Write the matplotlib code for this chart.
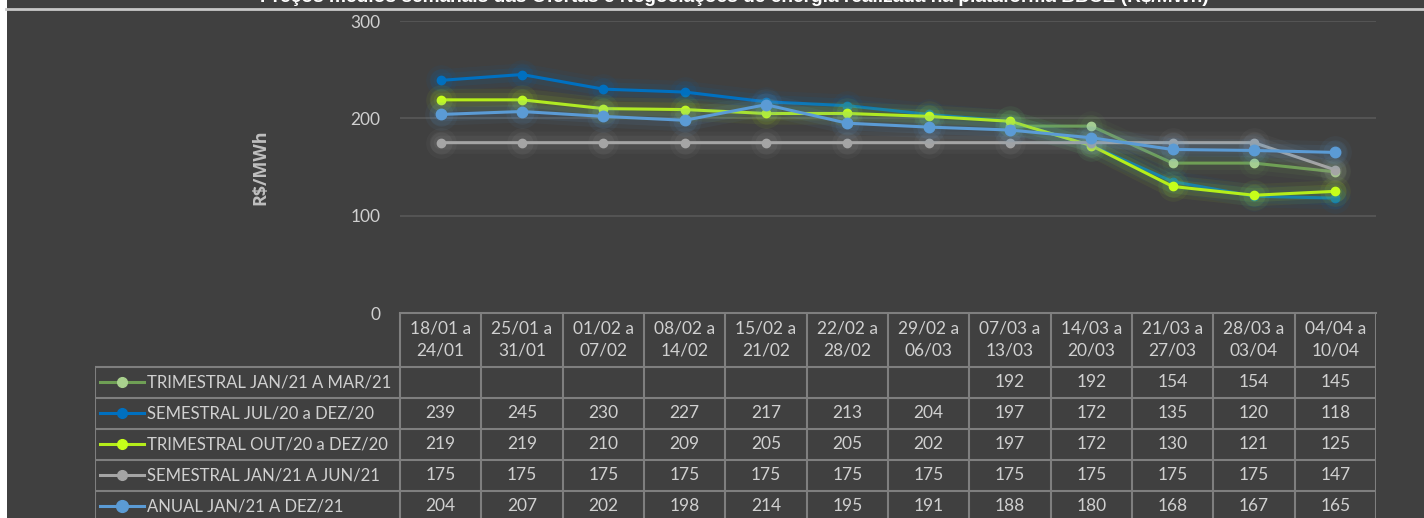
import matplotlib
matplotlib.use('Agg')
import matplotlib.pyplot as plt
import numpy as np

plt.rcParams['font.family'] = ['Lato', 'DejaVu Sans']

# data
weeks = ['18/01 a\n24/01', '25/01 a\n31/01', '01/02 a\n07/02', '08/02 a\n14/02',
         '15/02 a\n21/02', '22/02 a\n28/02', '29/02 a\n06/03', '07/03 a\n13/03',
         '14/03 a\n20/03', '21/03 a\n27/03', '28/03 a\n03/04', '04/04 a\n10/04']
series_names = ['TRIMESTRAL JAN/21 A MAR/21', 'SEMESTRAL JUL/20 a DEZ/20',
                'TRIMESTRAL OUT/20 a DEZ/20', 'SEMESTRAL JAN/21 A JUN/21',
                'ANUAL JAN/21 A DEZ/21']
trim_jan21 = [np.nan] * 7 + [192, 192, 154, 154, 145]
sem_jul20 = [239, 245, 230, 227, 217, 213, 204, 197, 172, 135, 120, 118]
trim_out20 = [219, 219, 210, 209, 205, 205, 202, 197, 172, 130, 121, 125]
sem_jan21 = [175] * 11 + [147]
anual_21 = [204, 207, 202, 198, 214, 195, 191, 188, 180, 168, 167, 165]
all_series = [trim_jan21, sem_jul20, trim_out20, sem_jan21, anual_21]

line_colors = ['#6f9f55', '#0070c0', '#b5ee1a', '#a5a5a5', '#5b9bd5']
marker_colors = ['#a9d18e', '#0070c0', '#c6ff1a', '#a5a5a5', '#5b9bd5']
marker_sizes = [6, 6, 6, 6, 7.5]

bg = '#404040'
txt = '#d0d0d0'
W, H = 1424, 518


def px_axes(fig, x0, y0, x1, y1):
    # pixel box (top-left origin) -> axes
    return fig.add_axes([x0 / W, 1 - y1 / H, (x1 - x0) / W, (y1 - y0) / H])


fig = plt.figure(figsize=(W / 100, H / 100), dpi=100, facecolor=bg)

# white strip on the left + line under the title
fig.patches.append(plt.Rectangle((0, 0), 7 / W, 1, transform=fig.transFigure,
                                 facecolor='white', edgecolor='none', zorder=0))
fig.lines.append(plt.Line2D([6 / W, 1], [1 - 9 / H, 1 - 9 / H], transform=fig.transFigure,
                            color='#c8c8c8', lw=2))
fig.text(0.516, 1 + 3 / H, 'Preços médios semanais das Ofertas e Negociações de energia '
         'realizada na plataforma BBCE (R$/MWh)', ha='center', va='center',
         color='white', fontsize=13.8, fontweight='bold', family='Liberation Sans')

# chart
ax = px_axes(fig, 400, 21, 1376, 313)
ax.set_facecolor('none')
x = np.arange(len(weeks))
for vals, lc, mc, ms in zip(all_series, line_colors, marker_colors, marker_sizes):
    v = np.array(vals, dtype=float)
    # glow
    for lw, a in [(16, 0.06), (10, 0.09)]:
        ax.plot(x, v, color=lc, lw=lw, alpha=a, solid_capstyle='round',
                marker='o', ms=ms + lw, mec='none', mfc=lc)
    ax.plot(x, v, color=lc, lw=2.2, marker='o', ms=ms, mfc=mc, mec=mc)

ax.set_xlim(-0.5, 11.5)
ax.set_ylim(0, 300)
ax.set_yticks([0, 100, 200, 300])
ax.set_xticks([])
ax.grid(axis='y', color='#595959', lw=1.2)
ax.set_axisbelow(True)
for s in ax.spines.values():
    s.set_visible(False)
ax.tick_params(axis='y', length=0, pad=14, labelcolor=txt, labelsize=12.5)
ax.set_ylabel('R$/MWh', color='#bfbfbf', fontsize=13, fontweight='bold',
              family='Open Sans', labelpad=58)

# data table
row_h = 31.1
head_h = 53.5
tab = px_axes(fig, 95, 313, 1376, H)
tab.set_facecolor('none')
tab.axis('off')
left = -0.5 - (400 - 95) / 81.33
tab.set_xlim(left, 11.5)
bottom = (H - 313) / row_h
tab.set_ylim(bottom, 0)
hh = head_h / row_h
grid_c = '#7f7f7f'

tab.plot([-0.5, 11.5], [0, 0], color=grid_c, lw=1.5, clip_on=False)
for k in range(13):
    tab.plot([-0.5 + k, -0.5 + k], [0, bottom + 1], color=grid_c, lw=1.5)
tab.plot([left, left], [hh, bottom + 1], color=grid_c, lw=1.5)
for i in range(len(series_names) + 1):
    tab.plot([left, 11.5], [hh + i, hh + i], color=grid_c, lw=1.5)

for k, w in enumerate(weeks):
    tab.text(k, hh / 2, w, ha='center', va='center', color=txt, fontsize=12.5,
             linespacing=1.45)

for i, (name, vals) in enumerate(zip(series_names, all_series)):
    yc = hh + i + 0.5
    tab.plot([left + 0.06, left + 0.33, left + 0.6], [yc, yc, yc], color=line_colors[i],
             lw=2.2, marker='o', markevery=[1], ms=marker_sizes[i] + 1,
             mfc=marker_colors[i], mec=marker_colors[i])
    tab.text(left + 0.64, yc, name, ha='left', va='center', color=txt, fontsize=12)
    for k, v in enumerate(vals):
        if not np.isnan(v):
            tab.text(k, yc, f'{v:.0f}', ha='center', va='center', color=txt, fontsize=12.5)

fig.savefig('out.png', dpi=100, facecolor=bg)
